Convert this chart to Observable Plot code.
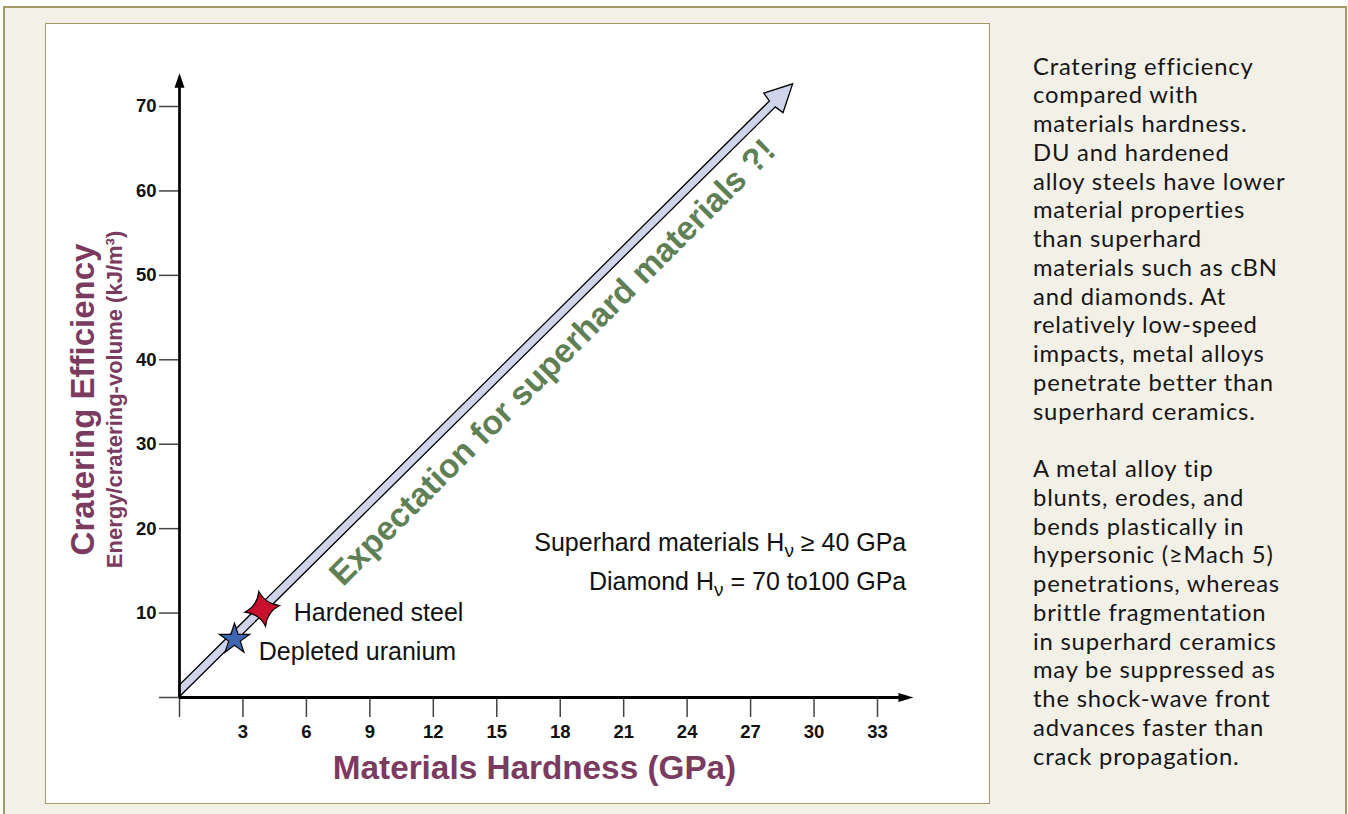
<!DOCTYPE html>
<html>
<head>
<meta charset="utf-8">
<script src="https://cdn.jsdelivr.net/npm/d3@7"></script>
<script src="https://cdn.jsdelivr.net/npm/@observablehq/plot@0.6"></script>
<style>
html, body { margin: 0; padding: 0; background: #ffffff; width: 1348px; height: 814px; overflow: hidden; }
#frame { position: absolute; left: 3px; top: 5.5px; width: 1340px; height: 830px; border: 2px solid #a39a66; background: #f3f0e8; }
#panel { position: absolute; left: 45.25px; top: 22.5px; width: 942.75px; height: 779.3px; border: 1.5px solid #a39a66; background: #ffffff; }
#chart { position: absolute; left: 0; top: 0; }
#caption { position: absolute; left: 1033px; top: 51.5px; font-family: Lato, "Open Sans", sans-serif; font-size: 23.8px; letter-spacing: 0.8px; line-height: 28.75px; color: #161616; white-space: nowrap; }
#caption div { height: 28.75px; }
</style>
</head>
<body>
<div id="frame"></div>
<div id="panel"></div>
<div id="chart"></div>
<div id="caption"></div>
<script>
// ---- data ----
const xTicks = [0, 3, 6, 9, 12, 15, 18, 21, 24, 27, 30, 33];
const yTicks = [0, 10, 20, 30, 40, 50, 60, 70];
const materials = ["Depleted uranium", "Hardened steel"];
const hardness = [2.6, 3.91];     // GPa
const efficiency = [6.9, 10.5];   // kJ/m3
const trendFrom = [0, 0];
const trendTo = [29.15, 72.27];
const trendLabel = "Expectation for superhard materials ?!";
const trendLabelAt = [16.74, 41.93];
const notes = ["Superhard materials H\u03bd \u2265 40 GPa", "Diamond H\u03bd = 70 to100 GPa"];
const noteX = [34.36, 34.36];
const noteY = [18.3, 13.67];
const xAxisEnd = 34.7;
const yAxisEnd = 73.95;
const xTitle = "Materials Hardness (GPa)";
const yTitle = "Cratering Efficiency";
const ySubtitle = "Energy/cratering-volume (kJ/m\u00b3)";
const captionParas = [
  ["Cratering efficiency", "compared with", "materials hardness.", "DU and hardened", "alloy steels have lower",
   "material properties", "than superhard", "materials such as cBN", "and diamonds. At", "relatively low-speed",
   "impacts, metal alloys", "penetrate better than", "superhard ceramics."],
  ["A metal alloy tip", "blunts, erodes, and", "bends plastically in", "hypersonic (\u2265Mach 5)",
   "penetrations, whereas", "brittle fragmentation", "in superhard ceramics", "may be suppressed as",
   "the shock-wave front", "advances faster than", "crack propagation."]
];

const points = materials.map((m, i) => ({material: m, hardness: hardness[i], efficiency: efficiency[i]}));
const noteRows = notes.map((t, i) => ({text: t, x: noteX[i], y: noteY[i]}));

// ---- colours ----
const maroon = "#7b3b5f";
const green = "#5f7f55";
const lavender = "#cfd4ea";

// ---- custom symbols ----
const fourStar = {
  draw(ctx, size) {
    const R = Math.sqrt(size / Math.PI);
    const rot = -11 * Math.PI / 180;
    const pts = d3.range(4).map(i => {
      const a = -Math.PI / 2 + rot + i * Math.PI / 2;
      return [R * Math.cos(a), R * Math.sin(a)];
    });
    const c = 0.33 * R;
    ctx.moveTo(pts[0][0], pts[0][1]);
    for (let i = 0; i < 4; i++) {
      const a = -Math.PI / 2 + rot + (i + 0.5) * Math.PI / 2;
      const p = pts[(i + 1) % 4];
      ctx.quadraticCurveTo(c * Math.cos(a), c * Math.sin(a), p[0], p[1]);
    }
    ctx.closePath();
  }
};
const headUp = {draw(ctx) { ctx.moveTo(0, 0); ctx.lineTo(5, 14.5); ctx.lineTo(-5, 14.5); ctx.closePath(); }};
const headRight = {draw(ctx) { ctx.moveTo(0, 0); ctx.lineTo(-15, 4.5); ctx.lineTo(-15, -4.5); ctx.closePath(); }};

// ---- trend band arrow (drawn through the plot's scales) ----
function trendBand(index, scales) {
  const X = scales.x, Y = scales.y;
  const x0 = X(trendFrom[0]), y0 = Y(trendFrom[1]);
  const x1 = X(trendTo[0]), y1 = Y(trendTo[1]);
  const L = Math.hypot(x1 - x0, y1 - y0);
  const ux = (x1 - x0) / L, uy = (y1 - y0) / L;
  const nx = uy, ny = -ux; // normal pointing up-left
  const hw = 4.2, headLen = 27, headHW = 13.7, notchBack = 28.5;
  const cx0 = x0 + nx * hw, cy0 = y0 + ny * hw;
  const tx = x1 + nx * hw, ty = y1 + ny * hw;
  const bx = tx - ux * headLen, by = ty - uy * headLen;
  const kx = tx - ux * notchBack, ky = ty - uy * notchBack;
  const ex = cx0 + nx * hw, ey = cy0 + ny * hw;
  const t = (x0 - ex) / ux;
  const up0 = [x0, ey + uy * t];
  const pts = [
    [x0, y0],
    [kx - nx * hw, ky - ny * hw],
    [bx - nx * headHW, by - ny * headHW],
    [tx, ty],
    [bx + nx * headHW, by + ny * headHW],
    [kx + nx * hw, ky + ny * hw],
    up0
  ];
  const g = document.createElementNS("http://www.w3.org/2000/svg", "g");
  const path = document.createElementNS("http://www.w3.org/2000/svg", "path");
  path.setAttribute("d", "M" + pts.map(p => p[0].toFixed(2) + "," + p[1].toFixed(2)).join("L") + "Z");
  path.setAttribute("fill", lavender);
  path.setAttribute("stroke", "#000");
  path.setAttribute("stroke-width", "1.3");
  path.setAttribute("stroke-linejoin", "miter");
  g.appendChild(path);
  return g;
}

const fontFamily = "'Liberation Sans', Arial, Helvetica, sans-serif";

const chart = Plot.plot({
  width: 1348,
  height: 814,
  marginLeft: 179,
  marginRight: 471,
  marginTop: 106,
  marginBottom: 117,
  x: {domain: [0, 33]},
  y: {domain: [0, 70]},
  style: {background: "transparent", fontFamily, overflow: "visible"},
  marks: [
    trendBand,
    Plot.axisX({ticks: xTicks, tickSize: 20, tickPadding: 7, tickFormat: d => d === 0 ? "" : d, label: null,
      stroke: "#444", strokeWidth: 1.5, fontSize: 18.5, fontWeight: "bold", fill: "#111"}),
    Plot.axisY({ticks: yTicks, tickSize: 20, tickPadding: 3, tickFormat: d => d === 0 ? "" : d, label: null,
      stroke: "#444", strokeWidth: 1.5, fontSize: 18.5, fontWeight: "bold", fill: "#111"}),
    Plot.ruleY([0], {x1: 0, x2: xAxisEnd - 0.3, stroke: "#000", strokeWidth: 2.8}),
    Plot.ruleX([0], {y1: 0, y2: yAxisEnd - 1, stroke: "#000", strokeWidth: 2.7}),
    Plot.dot([0], {x: xAxisEnd, y: 0, symbol: headRight, fill: "#000", stroke: "none"}),
    Plot.dot([0], {x: 0, y: yAxisEnd, symbol: headUp, fill: "#000", stroke: "none"}),
    Plot.dot(points.filter(d => d.material === "Hardened steel"), {x: "hardness", y: "efficiency", symbol: fourStar, r: 17.6,
      fill: "#c8102e", stroke: "#000", strokeWidth: 1.2}),
    Plot.dot(points.filter(d => d.material === "Depleted uranium"), {x: "hardness", y: "efficiency", symbol: "star", r: 9.56,
      fill: "#3d68b1", stroke: "#000", strokeWidth: 1.2}),
    Plot.text(points.filter(d => d.material === "Hardened steel"), {x: "hardness", y: "efficiency", text: "material",
      dx: 31.6, dy: 3.7, textAnchor: "start", fontSize: 25, fill: "#111"}),
    Plot.text(points.filter(d => d.material === "Depleted uranium"), {x: "hardness", y: "efficiency", text: "material",
      dx: 24.3, dy: 12.6, textAnchor: "start", fontSize: 25, fill: "#111"}),
    Plot.text(noteRows, {x: "x", y: "y", text: "text", textAnchor: "end", fontSize: 25, fill: "#111"}),
    Plot.text([trendLabel], {x: trendLabelAt[0], y: trendLabelAt[1], text: d => d, rotate: -45, dx: 19, dy: 19,
      textAnchor: "middle", lineAnchor: "middle", fontSize: 33.5, fontWeight: "bold", fill: green}),
    Plot.text([xTitle], {frameAnchor: "bottom", text: d => d, dx: 6, dy: 70.8, textAnchor: "middle", lineAnchor: "middle",
      fontSize: 33.3, fontWeight: "bold", fill: maroon}),
    Plot.text([yTitle], {frameAnchor: "left", text: d => d, rotate: -90, dx: -96.5, dy: -2.5, textAnchor: "middle", lineAnchor: "middle",
      fontSize: 33, fontWeight: "bold", fill: maroon}),
    Plot.text([ySubtitle], {frameAnchor: "left", text: d => d, rotate: -90, dx: -64.5, dy: -2.5, textAnchor: "middle", lineAnchor: "middle",
      fontSize: 22, fontWeight: "bold", fill: maroon})
  ]
});

// subscript nu in the annotations
chart.querySelectorAll("text").forEach(el => {
  const s = el.textContent;
  if (s.includes("H\u03bd") && el.children.length === 0) {
    const [before, after] = s.split("H\u03bd");
    el.textContent = "";
    const ns = "http://www.w3.org/2000/svg";
    const t1 = document.createElementNS(ns, "tspan"); t1.textContent = before + "H";
    const t2 = document.createElementNS(ns, "tspan"); t2.textContent = "\u03bd"; t2.setAttribute("dy", "6"); t2.setAttribute("font-size", "19");
    const t3 = document.createElementNS(ns, "tspan"); t3.textContent = after; t3.setAttribute("dy", "-6");
    el.append(t1, t2, t3);
  }
});

document.getElementById("chart").appendChild(chart);

// caption
const cap = document.getElementById("caption");
captionParas.forEach((para, pi) => {
  if (pi > 0) { const gap = document.createElement("div"); cap.appendChild(gap); }
  para.forEach(line => { const d = document.createElement("div"); d.textContent = line; cap.appendChild(d); });
});
</script>
</body>
</html>
